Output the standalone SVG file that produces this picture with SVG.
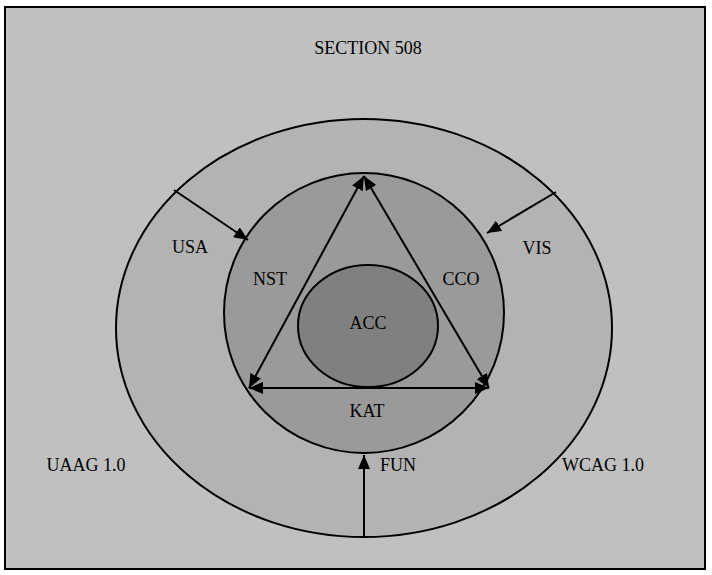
<svg xmlns="http://www.w3.org/2000/svg" width="712" height="575" viewBox="0 0 712 575">
<style>
text{font-family:"Liberation Serif","Times New Roman",serif;font-size:18px;fill:#000;text-anchor:middle}
.ln{stroke:#000;stroke-width:2;fill:none}
.ring{stroke:#000;stroke-width:2}
</style>
<defs>
<marker id="ah" viewBox="0 0 14 12" refX="14" refY="6" markerWidth="14" markerHeight="12" markerUnits="userSpaceOnUse" orient="auto-start-reverse">
<path d="M0,0 L14,6 L0,12 Z" fill="#000"/>
</marker>
</defs>
<rect x="5" y="7" width="700" height="562" fill="#c0c0c0" stroke="#000" stroke-width="2"/>
<g id="section508"><text x="368" y="54">SECTION 508</text></g>
<g id="outer"><ellipse class="ring" cx="364" cy="328" rx="248" ry="209" fill="#b3b3b3"/></g>
<g id="middle"><circle class="ring" cx="364" cy="313" r="140" fill="#9a9a9a"/></g>
<g id="acc"><ellipse class="ring" cx="368" cy="326" rx="70" ry="61" fill="#808080"/><text x="368" y="329">ACC</text></g>
<g id="connectors">
<line class="ln" x1="364" y1="176" x2="249" y2="388" marker-start="url(#ah)" marker-end="url(#ah)"/>
<line class="ln" x1="364" y1="176" x2="489" y2="388" marker-start="url(#ah)" marker-end="url(#ah)"/>
<line class="ln" x1="249" y1="388" x2="489" y2="388" marker-start="url(#ah)" marker-end="url(#ah)"/>
<line class="ln" x1="174" y1="190" x2="248" y2="240" marker-end="url(#ah)"/>
<line class="ln" x1="556" y1="192" x2="487" y2="233" marker-end="url(#ah)"/>
<line class="ln" x1="364" y1="537" x2="364" y2="455" marker-end="url(#ah)"/>
</g>
<g id="usa"><text x="190" y="253">USA</text></g>
<g id="vis"><text x="537" y="254">VIS</text></g>
<g id="nst"><text x="270" y="285">NST</text></g>
<g id="cco"><text x="461" y="285">CCO</text></g>
<g id="kat"><text x="367" y="417">KAT</text></g>
<g id="uaag"><text x="86" y="471">UAAG 1.0</text></g>
<g id="fun"><text x="398" y="471">FUN</text></g>
<g id="wcag"><text x="603" y="471">WCAG 1.0</text></g>
</svg>
